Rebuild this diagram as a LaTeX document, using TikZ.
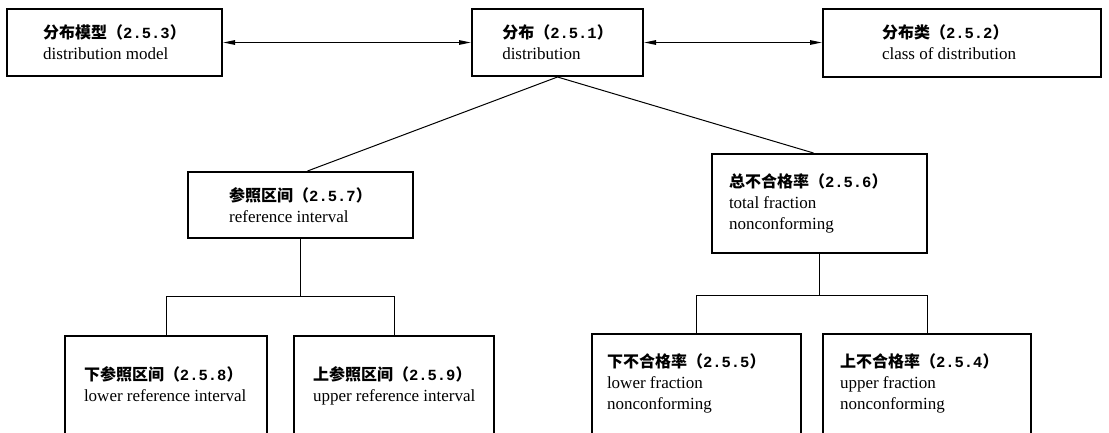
\documentclass[tikz,border=0pt]{standalone}
\usepackage{fontspec}
\setmainfont{Liberation Serif}
\newfontfamily\cjk{Noto Sans CJK SC}
\newfontfamily\numf{Liberation Mono}
\usetikzlibrary{arrows.meta}
\newcommand{\zh}[2]{{\fontsize{16}{21}\selectfont\cjk\bfseries #1（}{\fontsize{15.5}{21}\selectfont\numf\bfseries #2}{\fontsize{16}{21}\selectfont\cjk\bfseries ）}}
\newcommand{\lowbox}[4]{\begin{minipage}[c][120pt][t]{#1}\fontsize{17}{21}\selectfont\raggedright\leftskip=#3\relax\vspace*{#2}#4\end{minipage}}
\begin{document}
\begin{tikzpicture}[x=1pt,y=-1pt,
  termbox/.style={draw, line width=2pt, inner sep=0pt, align=flush left, font=\fontsize{17}{21}\selectfont},
  conn/.style={line width=1pt},
  dbl/.style={line width=1.3pt, {Triangle[length=12pt,width=4.5pt]}-{Triangle[length=12pt,width=4.5pt]}}]
\useasboundingbox (0,0) rectangle (1109,432);
\clip (0,0) rectangle (1109,432);
% top row
\node[termbox, minimum width=215pt, minimum height=67pt] (A) at (114.5,42.5) {\zh{分布模型}{2.5.3}\\distribution model};
\node[termbox, minimum width=171pt, minimum height=67pt] (B) at (557.5,42.5) {\zh{分布}{2.5.1}\\distribution};
\node[termbox, minimum width=278pt, minimum height=68pt, text width=160pt] (C) at (962,42.5) {\zh{分布类}{2.5.2}\\class of distribution};
% middle row
\node[termbox, minimum width=225pt, minimum height=66pt] (D) at (300.5,205) {\zh{参照区间}{2.5.7}\\reference interval};
\node[termbox, minimum width=215pt, minimum height=99pt, text width=181pt] (G) at (819.5,203.5) {\zh{总不合格率}{2.5.6}\\total fraction\\nonconforming};
% bottom row
\node[termbox, anchor=north west] (E) at (64,335) {\lowbox{202pt}{31pt}{19pt}{\zh{下参照区间}{2.5.8}\\lower reference interval}};
\node[termbox, anchor=north west] (F) at (293,335) {\lowbox{200pt}{31pt}{19pt}{\zh{上参照区间}{2.5.9}\\upper reference interval}};
\node[termbox, anchor=north west] (H) at (591,333) {\lowbox{209pt}{20pt}{15pt}{\zh{下不合格率}{2.5.5}\\lower fraction\\nonconforming}};
\node[termbox, anchor=north west] (I) at (822,333) {\lowbox{208pt}{20pt}{17pt}{\zh{上不合格率}{2.5.4}\\upper fraction\\nonconforming}};
% connectors
\draw[dbl] (A.east) -- (B.west);
\draw[dbl] (B.east) -- (C.west);
\draw[conn] (B.south) -- ([xshift=7pt]D.north);
\draw[conn] (B.south) -- ([xshift=-6pt]G.north);
\coordinate (jl) at (300.5,296);
\draw[conn] (D.south) -- (jl);
\draw[conn] (E.north) -- (E.north |- jl) -- (F.north |- jl) -- (F.north);
\coordinate (jr) at (819.5,295);
\draw[conn] (G.south) -- (jr);
\draw[conn] (H.north) -- (H.north |- jr) -- (I.north |- jr) -- (I.north);
\end{tikzpicture}
\end{document}
